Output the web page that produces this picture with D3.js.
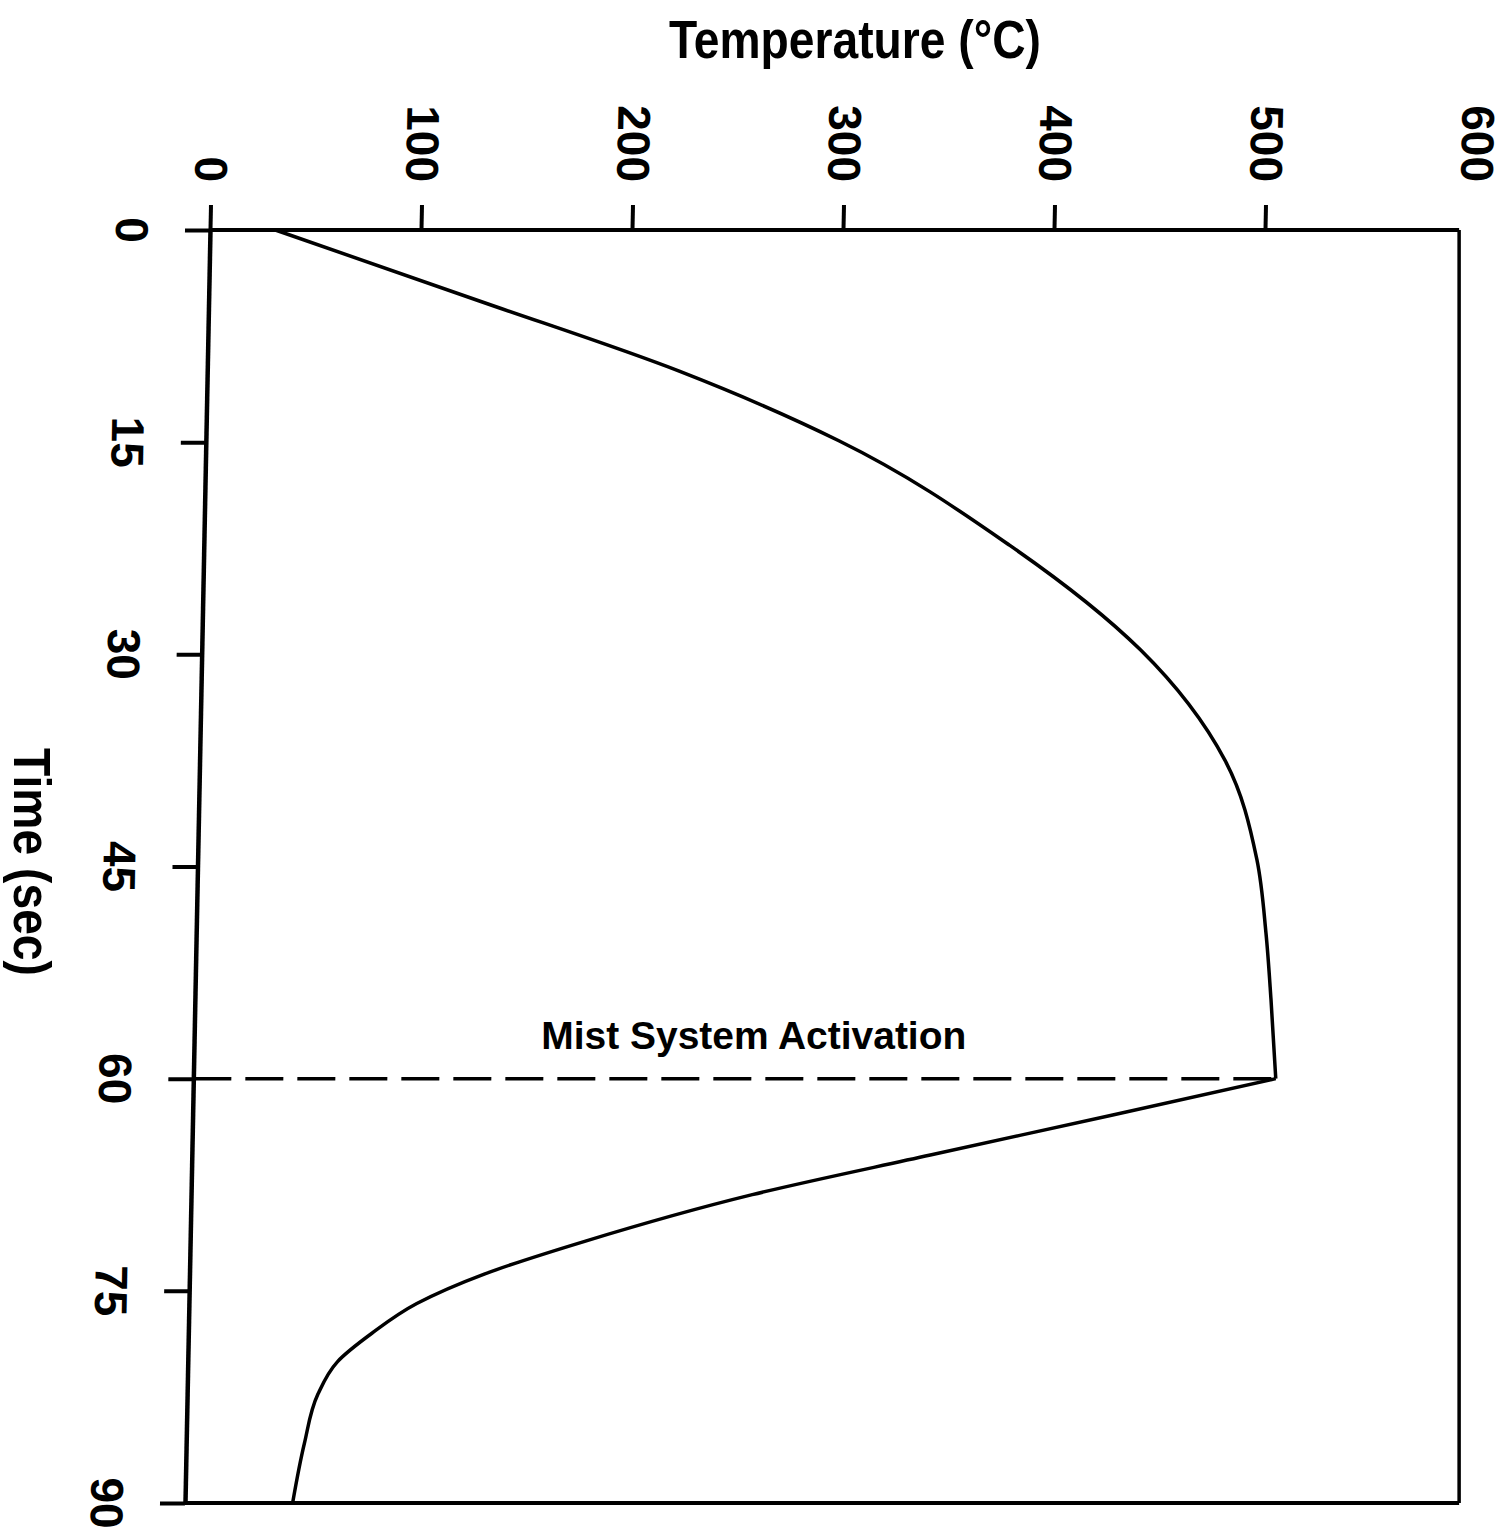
<!DOCTYPE html>
<html>
<head>
<meta charset="utf-8">
<script src="https://cdn.jsdelivr.net/npm/d3@7"></script>
<style>
  body { margin: 0; background: #fff; }
  text { font-family: "Liberation Sans", Arial, Helvetica, sans-serif; font-weight: bold; fill: #000; }
</style>
</head>
<body>
<div id="chart"></div>
<script>
(function() {
  var width = 1508, height = 1533;

  // data
  var timeTicks = [0, 15, 30, 45, 60, 75, 90];
  var tempTicks = [0, 100, 200, 300, 400, 500];
  var tempLabels = [0, 100, 200, 300, 400, 500, 600];

  var time = [0, 5, 10, 14.9, 22.3, 29.7, 37.5, 44.5, 49.7, 54.4, 60,
              62.6, 65.4, 68.2, 71.5, 73.8, 75.9, 78, 80, 82.3, 85.8, 90];
  var temperature = [31, 128, 224, 300, 382, 445, 486, 502, 507, 510, 513,
                     435, 350, 266, 187, 140, 108, 87, 71, 62, 56, 51];

  var mistTime = 60;
  var mistLabel = "Mist System Activation";
  var frameTemp = 592; // right edge of the box

  var x = d3.scaleLinear().domain([0, 600]).range([210, 1476]);
  var y = d3.scaleLinear().domain([0, 90]).range([230, 1503]);

  // the scan leans a bit: left axis drifts left going down
  var skewDeg = -1.125;
  var shear = Math.tan(skewDeg * Math.PI / 180);
  var y0 = y(0);

  var svg = d3.select("#chart")
    .append("svg")
    .attr("width", width)
    .attr("height", height);

  var data = time.map(function(t, i) { return { time: t, temp: temperature[i] }; });
  var peakIdx = d3.maxIndex(data, function(d) { return d.temp; });
  var peak = data[peakIdx];

  // frame (right side + bottom + top) drawn unskewed
  var xr = x(frameTemp);
  svg.append("path")
    .attr("d", "M" + xr + "," + y0 + "V" + y(90))
    .attr("stroke", "#000").attr("stroke-width", 3.5).attr("fill", "none");
  svg.append("path")
    .attr("d", "M" + (x(0) + shear * (y(90) - y0)) + "," + y(90) + "H" + xr)
    .attr("stroke", "#000").attr("stroke-width", 4).attr("fill", "none");
  svg.append("path")
    .attr("d", "M" + x(0) + "," + y0 + "H" + xr)
    .attr("stroke", "#000").attr("stroke-width", 4).attr("fill", "none");

  var g = svg.append("g")
    .attr("transform", "translate(0," + y0 + ") skewX(" + skewDeg + ") translate(0," + (-y0) + ")");

  // temperature axis (top)
  var xAxis = d3.axisTop(x).tickValues(tempTicks).tickSize(25).tickSizeOuter(0).tickFormat("");
  var gx = g.append("g").attr("transform", "translate(0," + y0 + ")").call(xAxis);
  gx.select(".domain").remove();
  gx.selectAll(".tick line").attr("stroke", "#000").attr("stroke-width", 4);

  g.selectAll(".temp-label")
    .data(tempLabels)
    .enter().append("text")
    .attr("class", "temp-label")
    .attr("transform", function(d) { return "translate(" + x(d) + "," + (y0 - 48) + ") rotate(90)"; })
    .attr("text-anchor", "end")
    .attr("dominant-baseline", "central")
    .attr("font-size", 46)
    .text(function(d) { return d; });

  // time axis (left)
  var yAxis = d3.axisLeft(y).tickValues(timeTicks).tickSize(25).tickSizeOuter(0).tickFormat("");
  var gy = g.append("g").attr("transform", "translate(" + x(0) + ",0)").call(yAxis);
  gy.select(".domain").attr("stroke", "#000").attr("stroke-width", 4.5);
  gy.selectAll(".tick line").attr("stroke", "#000").attr("stroke-width", 4);

  g.selectAll(".time-label")
    .data(timeTicks)
    .enter().append("text")
    .attr("class", "time-label")
    .attr("transform", function(d) { return "translate(" + (x(0) - 78) + "," + y(d) + ") rotate(90)"; })
    .attr("text-anchor", "middle")
    .attr("dominant-baseline", "central")
    .attr("font-size", 46)
    .text(function(d) { return d; });

  // mist activation dashed line
  g.append("line")
    .attr("x1", x(0)).attr("x2", x(peak.temp))
    .attr("y1", y(mistTime)).attr("y2", y(mistTime))
    .attr("stroke", "#000").attr("stroke-width", 3.5)
    .attr("stroke-dasharray", "38,14");

  // heating and cooling drawn separately so the peak stays sharp
  var line = d3.line()
    .x(function(d) { return x(d.temp); })
    .y(function(d) { return y(d.time); })
    .curve(d3.curveMonotoneY);

  [data.slice(0, peakIdx + 1), data.slice(peakIdx)].forEach(function(part) {
    g.append("path")
      .datum(part)
      .attr("d", line)
      .attr("fill", "none")
      .attr("stroke", "#000")
      .attr("stroke-width", 3.5)
      .attr("stroke-linejoin", "round");
  });

  // labels
  svg.append("text")
    .attr("x", x(157)).attr("y", y(mistTime) - 30)
    .attr("font-size", 39)
    .attr("textLength", 425).attr("lengthAdjust", "spacingAndGlyphs")
    .text(mistLabel);

  svg.append("text")
    .attr("x", 855).attr("y", 58)
    .attr("text-anchor", "middle")
    .attr("font-size", 54)
    .attr("textLength", 372).attr("lengthAdjust", "spacingAndGlyphs")
    .text("Temperature (°C)");

  svg.append("text")
    .attr("transform", "translate(14,862) rotate(90)")
    .attr("text-anchor", "middle")
    .attr("font-size", 52)
    .attr("textLength", 228).attr("lengthAdjust", "spacingAndGlyphs")
    .text("Time (sec)");
})();
</script>
</body>
</html>
